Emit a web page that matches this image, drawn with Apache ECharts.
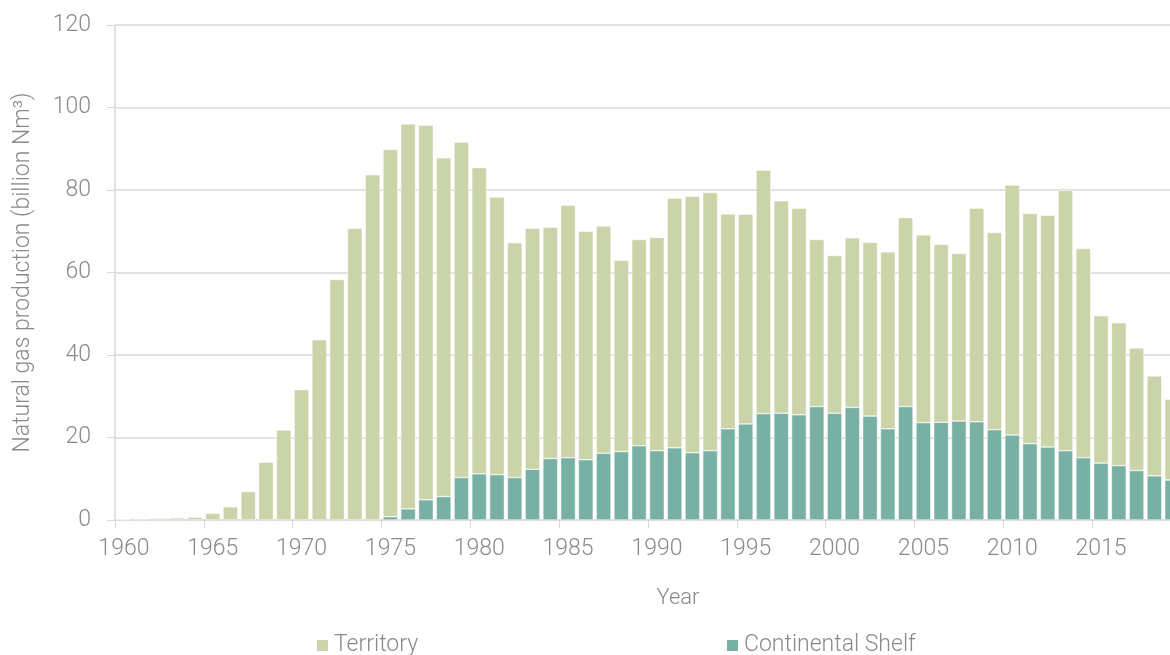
<!DOCTYPE html>
<html>
<head>
<meta charset="utf-8">
<script src="https://cdn.jsdelivr.net/npm/echarts@6/dist/echarts.min.js"></script>
<style>
  html, body { margin: 0; padding: 0; background: #fff; }
  #chart { width: 1170px; height: 655px; }
</style>
</head>
<body>
<div id="chart"></div>
<script>
// years 1960 - 2019
const years = [];
for (let y = 1960; y <= 2019; y++) years.push(String(y));

// billion Nm3
const territory = [
  0.2, 0.3, 0.4, 0.5, 0.7, 1.6, 3.2, 6.9, 14.0, 21.8,
  31.6, 43.7, 58.3, 70.7, 83.7, 89.0, 93.3, 90.8, 82.1, 81.3,
  74.2, 67.3, 56.9, 58.4, 56.1, 61.2, 55.4, 55.1, 46.4, 50.0,
  51.7, 60.5, 62.2, 62.6, 52.1, 50.8, 59.0, 51.5, 50.1, 40.5,
  38.2, 41.1, 42.1, 42.9, 45.8, 45.5, 43.1, 40.6, 51.8, 47.8,
  60.6, 55.8, 56.2, 63.1, 50.7, 35.7, 34.6, 29.7, 24.2, 19.6
];

// no offshore production before 1975
const shelf = [
  null, null, null, null, null, null, null, null, null, null,
  null, null, null, null, null, 0.8, 2.7, 4.9, 5.7, 10.3,
  11.2, 11.0, 10.3, 12.3, 14.9, 15.1, 14.6, 16.2, 16.6, 18.0,
  16.8, 17.5, 16.3, 16.8, 22.1, 23.3, 25.8, 25.9, 25.5, 27.5,
  25.9, 27.3, 25.2, 22.1, 27.5, 23.6, 23.7, 24.0, 23.8, 21.9,
  20.6, 18.5, 17.7, 16.8, 15.1, 13.8, 13.2, 12.0, 10.7, 9.7
];

const yTicks = { min: 0, max: 120, interval: 20 };

const textColor = '#8a8a8a';
const lineColor = '#d9d9d9';
const territoryColor = '#cbd3a9';
const shelfColor = '#78b0a4';
const font = 'Roboto';

const chart = echarts.init(document.getElementById('chart'));

const legendText = { color: textColor, fontSize: 23, fontFamily: font, fontWeight: 300 };

const option = {
  animation: false,
  grid: {
    left: 115,
    top: 25,
    width: 1066,
    height: 495,
    outerBoundsMode: 'none'
  },
  legend: [
    {
      data: ['Territory'],
      left: 310,
      top: 629,
      icon: 'rect',
      itemWidth: 13,
      itemHeight: 13,
      itemGap: 5,
      textStyle: legendText
    },
    {
      data: ['Continental Shelf'],
      left: 720,
      top: 629,
      icon: 'rect',
      itemWidth: 13,
      itemHeight: 13,
      itemGap: 5,
      textStyle: legendText
    }
  ],
  xAxis: {
    type: 'category',
    data: years,
    name: 'Year',
    nameLocation: 'middle',
    nameGap: 67,
    nameTextStyle: {
      color: textColor, fontSize: 22, fontFamily: font, fontWeight: 300,
      padding: [0, 0, 0, 60]
    },
    axisLine: { lineStyle: { color: lineColor, width: 1.5 } },
    axisTick: { show: true, length: 8, lineStyle: { color: lineColor } },
    axisLabel: {
      interval: 4,
      margin: 18,
      color: textColor,
      fontSize: 23,
      fontFamily: font,
      fontWeight: 300
    }
  },
  yAxis: {
    type: 'value',
    min: yTicks.min,
    max: yTicks.max,
    interval: yTicks.interval,
    name: 'Natural gas production (billion Nm³)',
    nameLocation: 'middle',
    nameGap: 80,
    nameTextStyle: { color: textColor, fontSize: 23, fontFamily: font, fontWeight: 300 },
    axisLine: { show: true, lineStyle: { color: lineColor, width: 1.5 } },
    axisTick: { show: true, length: 8, lineStyle: { color: lineColor } },
    axisLabel: {
      margin: 24,
      color: textColor,
      fontSize: 23,
      fontFamily: font,
      fontWeight: 300
    },
    splitLine: { lineStyle: { color: lineColor, width: 1.5 } }
  },
  series: [
    {
      name: 'Continental Shelf',
      type: 'bar',
      stack: 'gas',
      barCategoryGap: '17%',
      itemStyle: { color: shelfColor, borderColor: '#ffffff', borderWidth: 0.5 },
      data: shelf
    },
    {
      name: 'Territory',
      type: 'bar',
      stack: 'gas',
      barCategoryGap: '17%',
      itemStyle: { color: territoryColor, borderColor: '#ffffff', borderWidth: 0.5 },
      data: territory
    }
  ]
};

chart.setOption(option);
</script>
</body>
</html>
